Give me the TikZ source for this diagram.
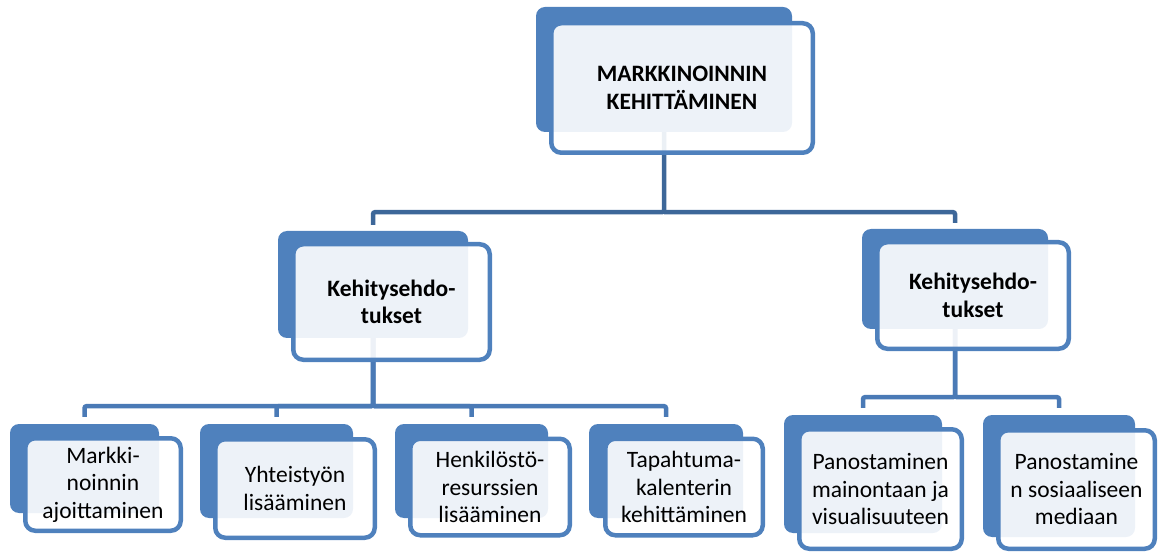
\documentclass[tikz,border=0pt]{standalone}
\usepackage{fontspec}
\setmainfont{Carlito}
\usetikzlibrary{calc}
\definecolor{accent}{RGB}{79,129,189}
\definecolor{linkdark}{RGB}{61,103,153}
\definecolor{linklight}{RGB}{74,122,182}
\begin{document}
\begin{tikzpicture}[x=1pt,y=-1pt,
  backbox/.style={fill=accent, draw=none, rounded corners=9pt, inner sep=0pt},
  frontbox/.style={draw=accent, line width=4.5pt, fill=white, fill opacity=0.9,
    text opacity=1, rounded corners=10pt, align=center, inner sep=0pt,
    font=\fontsize{23.5}{27.5}\selectfont},
  link/.style={line width=4.5pt, rounded corners=2pt},
]
\useasboundingbox (0,0) rectangle (1162,553);

% back (solid) rectangles of each card
\node[backbox, minimum width=256pt, minimum height=125pt] (top-b) at (664,69.5) {};
\node[backbox, minimum width=190pt, minimum height=107pt] (midL-b) at (373,284.5) {};
\node[backbox, minimum width=186pt, minimum height=100pt] (midR-b) at (955,279) {};
\node[backbox, minimum width=149pt, minimum height=89pt] (b1-b) at (84.5,468.5) {};
\node[backbox, minimum width=153pt, minimum height=94pt] (b2-b) at (276.5,471) {};
\node[backbox, minimum width=153pt, minimum height=94pt] (b3-b) at (471.5,471) {};
\node[backbox, minimum width=154pt, minimum height=94pt] (b4-b) at (666,471) {};
\node[backbox, minimum width=158pt, minimum height=118pt] (b5-b) at (863,474) {};
\node[backbox, minimum width=152pt, minimum height=122pt] (b6-b) at (1059,476) {};

% connectors
\draw[link, draw=linkdark] (top-b.south) -- ($(top-b.south)+(0,80)$) -| ($(midL-b.north)+(0,-6)$);
\draw[link, draw=linkdark] ($(top-b.south)+(0,80)$) -| ($(midR-b.north)+(0,-6)$);

\foreach \c in {b1,b2,b3,b4}
  \draw[link, draw=linklight] (midL-b.south) -- ($(midL-b.south)+(0,68)$) -| ($(\c-b.north)+(0,-7)$);
\foreach \c in {b5,b6}
  \draw[link, draw=linklight] (midR-b.south) -- ($(midR-b.south)+(0,68)$) -| ($(\c-b.north)+(0,-7)$);

% front (outlined) rectangles with the texts
\node[frontbox, font=\fontsize{23.5}{27.5}\selectfont\bfseries,
  minimum width=261.5pt, minimum height=129.5pt] (top-f) at (682,88)
  {MARKKINOINNIN\\KEHITTÄMINEN};
\node[frontbox, font=\fontsize{23.5}{27.5}\selectfont\bfseries,
  minimum width=196.5pt, minimum height=115.5pt] (midL-f) at (391.5,302)
  {Kehitysehdo-\\tukset};
\node[frontbox, font=\fontsize{23.5}{27.5}\selectfont\bfseries,
  minimum width=191.5pt, minimum height=106.5pt] (midR-f) at (973,295.5)
  {Kehitysehdo-\\tukset};
\node[frontbox, minimum width=155.5pt, minimum height=92.5pt] (b1-f) at (103,484.5)
  {Markki-\\noinnin\\ajoittaminen};
\node[frontbox, minimum width=159.5pt, minimum height=98.5pt] (b2-f) at (295,488.5)
  {Yhteistyön\\lisääminen};
\node[frontbox, minimum width=159.5pt, minimum height=96.5pt] (b3-f) at (490,487)
  {Henkilöstö-\\resurssien\\lisääminen};
\node[frontbox, minimum width=157.5pt, minimum height=96.5pt] (b4-f) at (684,487)
  {Tapahtuma-\\kalenterin\\kehittäminen};
\node[frontbox, minimum width=162.5pt, minimum height=119.5pt] (b5-f) at (880.5,489)
  {Panostaminen\\mainontaan ja\\visualisuuteen};
\node[frontbox, minimum width=156.5pt, minimum height=118.5pt] (b6-f) at (1076.5,489.5)
  {Panostamine\\n sosiaaliseen\\mediaan};
\end{tikzpicture}
\end{document}
